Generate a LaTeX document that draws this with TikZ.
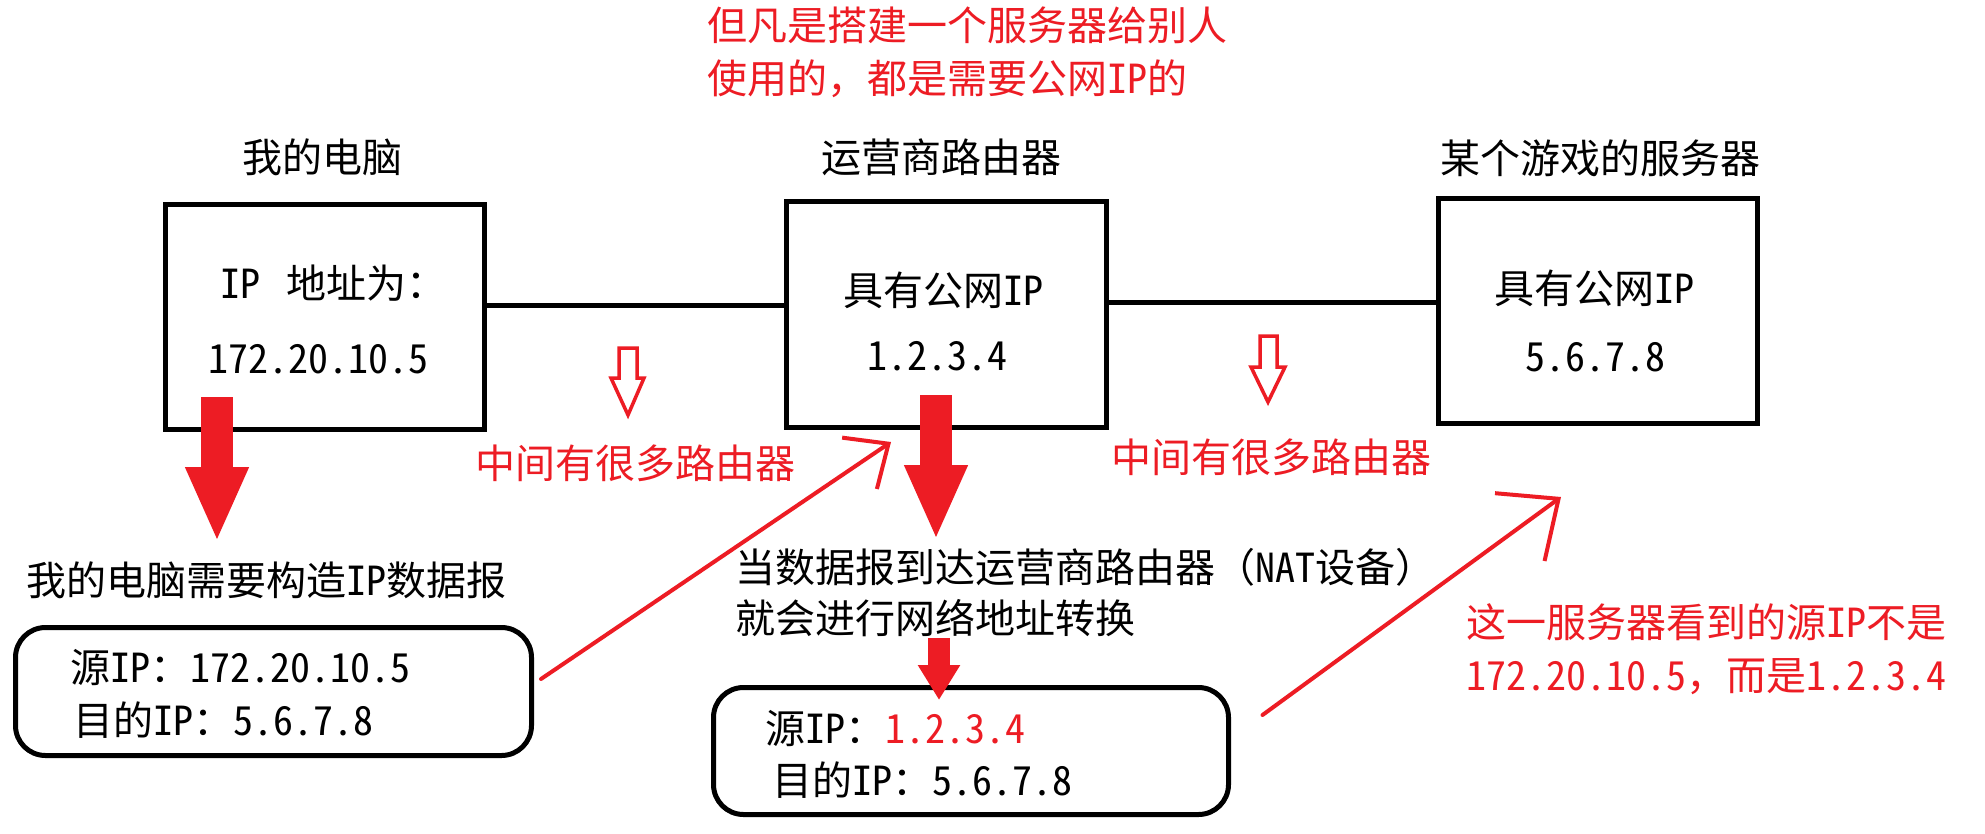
\documentclass[tikz,border=0pt]{standalone}
\usepackage{fontspec}
\setmainfont{Noto Sans CJK SC}
\newfontfamily\hw[RawFeature=+hwid]{Noto Sans CJK SC}
\usetikzlibrary{arrows.meta}
\definecolor{pred}{RGB}{237,28,36}
\tikzset{
  txt/.style={inner sep=0pt, font=\fontsize{40}{48}\selectfont, text height=33.6pt, text depth=3.2pt},
  redtxt/.style={txt, text=pred},
  sqbox/.style={draw, line width=5pt, minimum width=319pt, minimum height=225pt, inner sep=0pt},
  rbox/.style={draw, line width=5pt, rounded corners=30pt, inner sep=0pt},
  link/.style={line width=5pt},
  fatarrow/.style={pred, line width=32pt, -{Triangle[length=75pt,width=58pt]}},
  smallfat/.style={pred, line width=22pt, -{Triangle[length=35pt,width=40pt]}},
  hollow/.style={draw=pred, line width=3.5pt, line join=miter},
  thinarrow/.style={pred, line width=4pt, line cap=round},
}
\begin{document}
\begin{tikzpicture}[x=1pt,y=-1pt]
\useasboundingbox[fill=white] (0,0) rectangle (1985,833);

% top red note
\node[redtxt, anchor=west] (note1) at (707,25) {但凡是搭建一个服务器给别人};
\node[redtxt, anchor=west] (note2) at (707,78) {使用的，都是需要公网{\hw IP}的};

% titles
\node[txt] (tpc) at (322,157) {我的电脑};
\node[txt] (tisp) at (941,157) {运营商路由器};
\node[txt] (tsrv) at (1600,158) {某个游戏的服务器};

% boxes
\node[sqbox] (pc) at (325,317) {};
\node[sqbox, minimum width=320pt, minimum height=226pt] (isp) at (946.5,314.5) {};
\node[sqbox] (srv) at (1598,311) {};

\node[txt, anchor=west] (pc1) at (220,283) {{\hw IP}\hspace{26pt}地址为：};
\node[txt] (pc2) at (318,358) {\hw 172.20.10.5};
\node[txt] (isp1) at (943,290) {具有公网{\hw IP}};
\node[txt] (isp2) at (937,355) {\hw 1.2.3.4};
\node[txt] (srv1) at (1594,288) {具有公网{\hw IP}};
\node[txt] (srv2) at (1595,356) {\hw 5.6.7.8};

% links
\draw[link] ([yshift=12pt]pc.east) -- ([yshift=9.5pt]isp.west);
\draw[link] ([yshift=12.5pt]isp.east) -- ([yshift=9pt]srv.west);

% hollow small arrows
\draw[hollow] (619,348) -- (637,348) -- (637,378) -- (644,378) -- (628,415) -- (611,378) -- (619,378) -- cycle;
\draw[hollow] (1260,336) -- (1277,336) -- (1277,367) -- (1285,367) -- (1268,402) -- (1251,367) -- (1260,367) -- cycle;

\node[redtxt, anchor=west] (mid1) at (475,463) {中间有很多路由器};
\node[redtxt, anchor=west] (mid2) at (1111,457) {中间有很多路由器};

% packet 1
\node[txt, anchor=west] (build) at (26,580) {我的电脑需要构造{\hw IP}数据报};
\node[rbox, minimum width=516pt, minimum height=128pt] (p1) at (273.5,691.5) {};
\node[txt, anchor=west] (p1a) at (70,667) {源{\hw IP}：{\hw 172.20.10.5}};
\node[txt, anchor=west] (p1b) at (73,720) {目的{\hw IP}：{\hw 5.6.7.8}};

% NAT note
\node[txt, anchor=west] (nat1) at (735,567) {当数据报到达运营商路由器（{\hw NAT}设备）};
\node[txt, anchor=west] (nat2) at (735,618) {就会进行网络地址转换};

% packet 2
\node[rbox, minimum width=515pt, minimum height=127pt] (p2) at (971,751) {};
\node[txt, anchor=west] (p2a) at (765,728) {源{\hw IP}：\textcolor{pred}{\hw 1.2.3.4}};
\node[txt, anchor=west] (p2b) at (772,780) {目的{\hw IP}：{\hw 5.6.7.8}};

% server note
\node[redtxt, anchor=west] (sees1) at (1466,622) {这一服务器看到的源{\hw IP}不是};
\node[redtxt, anchor=west] (sees2) at (1466,675) {{\hw 172.20.10.5}，而是{\hw 1.2.3.4}};

% fat arrows
\coordinate (f1s) at (217,397);
\coordinate (f1e) at (217,542);
\coordinate (f2s) at (936,395);
\coordinate (f2e) at (936,540);
\coordinate (f3s) at (939,638);
\coordinate (f3e) at (939,700);
\draw[fatarrow] (f1s) -- (f1e);
\draw[fatarrow] (f2s) -- (f2e);
\draw[smallfat] (f3s) -- (f3e);

% thin red arrows
\coordinate (h1) at (891,442);
\coordinate (h2) at (1561,497);
\draw[thinarrow, -{Straight Barb[length=35pt,width=62pt]}] ([xshift=7pt,yshift=12.5pt]p1.east) -- (h1);
\draw[thinarrow, -{Straight Barb[length=48pt,width=84pt]}] ([xshift=31.5pt,yshift=36pt]p2.east) -- (h2);
\end{tikzpicture}
\end{document}
